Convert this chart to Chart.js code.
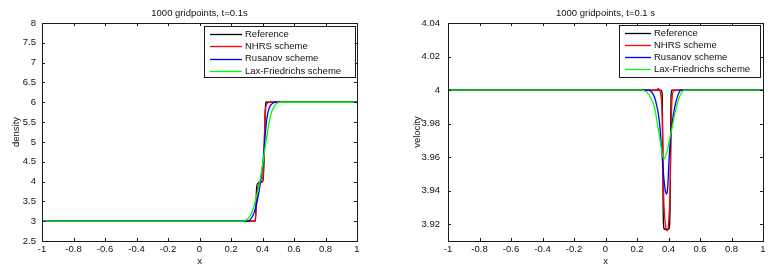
<!DOCTYPE html>
<html>
<head>
<meta charset="utf-8">
<script src="https://cdn.jsdelivr.net/npm/chart.js@4"></script>
<style>
  html, body { margin:0; padding:0; background:#fff; }
  #wrap { position:relative; width:773px; height:274px; }
  canvas { position:absolute; top:0; }
</style>
</head>
<body>
<div id="wrap">
  <canvas id="rhoChart" width="390" height="274" style="left:0"></canvas>
  <canvas id="velChart" width="383" height="274" style="left:390px"></canvas>
</div>
<script>
const seriesNames = ['Reference', 'NHRS scheme', 'Rusanov scheme', 'Lax-Friedrichs scheme'];
const seriesColors = ['#000000', '#ff0000', '#0000ff', '#00ff00'];

const xTicks = [-1, -0.8, -0.6, -0.4, -0.2, 0, 0.2, 0.4, 0.6, 0.8, 1];
const xTickLabels = ['-1', '-0.8', '-0.6', '-0.4', '-0.2', '0', '0.2', '0.4', '0.6', '0.8', '1'];
const rhoTicks = [2.5, 3, 3.5, 4, 4.5, 5, 5.5, 6, 6.5, 7, 7.5, 8];
const rhoTickLabels = ['2.5', '3', '3.5', '4', '4.5', '5', '5.5', '6', '6.5', '7', '7.5', '8'];
const velTicks = [3.92, 3.94, 3.96, 3.98, 4, 4.02, 4.04];
const velTickLabels = ['3.92', '3.94', '3.96', '3.98', '4', '4.02', '4.04'];

// density, t=0.1s
const rhoRefX  = [-1, 0.355, 0.358, 0.362, 0.368, 0.375, 0.38, 0.40, 0.405, 0.41, 0.415, 0.42, 1];
const rhoRefY  = [3, 3, 3.3, 3.8, 3.95, 3.95, 4.0, 4.0, 4.1, 4.6, 5.5, 6.0, 6];
const rhoNhrsX = [-1, 0.34, 0.352, 0.36, 0.365, 0.37, 0.38, 0.39, 0.40, 0.405, 0.41, 0.415, 0.42, 0.43, 0.44, 1];
const rhoNhrsY = [3, 3, 3.02, 3.3, 3.6, 3.85, 3.95, 3.98, 4.0, 4.2, 4.8, 5.5, 5.85, 5.97, 6.0, 6];
const rhoRusX  = [-1, 0.30, 0.32, 0.34, 0.36, 0.38, 0.395, 0.41, 0.42, 0.43, 0.445, 0.46, 0.48, 1];
const rhoRusY  = [3, 3, 3.03, 3.15, 3.4, 3.8, 4.2, 4.8, 5.3, 5.65, 5.88, 5.96, 6.0, 6];
const rhoLfX   = [-1, 0.27, 0.30, 0.32, 0.34, 0.36, 0.38, 0.40, 0.42, 0.44, 0.46, 0.48, 0.50, 0.52, 1];
const rhoLfY   = [3, 3, 3.04, 3.12, 3.3, 3.6, 3.95, 4.4, 4.95, 5.45, 5.78, 5.93, 5.99, 6.0, 6];

// velocity, t=0.1 s
const velRefX  = [-1, 0.33, 0.35, 0.36, 0.363, 0.366, 0.37, 0.375, 0.40, 0.405, 0.41, 0.413, 0.416, 0.42, 1];
const velRefY  = [4, 4, 4, 3.998, 3.97, 3.93, 3.918, 3.917, 3.917, 3.918, 3.93, 3.97, 3.995, 4, 4];
const velNhrsX = [-1, 0.30, 0.32, 0.335, 0.35, 0.36, 0.365, 0.37, 0.38, 0.39, 0.40, 0.41, 0.415, 0.42, 0.43, 0.45, 1];
const velNhrsY = [4, 4, 4, 4.0008, 3.998, 3.985, 3.96, 3.935, 3.92, 3.916, 3.92, 3.94, 3.965, 3.99, 3.999, 4, 4];
const velRusX  = [-1, 0.27, 0.30, 0.32, 0.34, 0.35, 0.36, 0.37, 0.38, 0.387, 0.395, 0.403, 0.41, 0.42, 0.44, 0.46, 0.48, 1];
const velRusY  = [4, 4, 3.998, 3.993, 3.983, 3.973, 3.96, 3.948, 3.94, 3.938, 3.942, 3.958, 3.968, 3.978, 3.99, 3.997, 4, 4];
const velLfX   = [-1, 0.22, 0.26, 0.29, 0.31, 0.33, 0.35, 0.37, 0.39, 0.41, 0.43, 0.45, 0.47, 0.50, 1];
const velLfY   = [4, 4, 3.999, 3.995, 3.99, 3.98, 3.968, 3.959, 3.963, 3.972, 3.981, 3.99, 3.996, 4, 4];

const FONT = 'Liberation Sans, Arial, sans-serif';
const LINE_W = 1.3;

function pts(xs, ys){ return xs.map((x,i)=>({x, y: ys[i]})); }

function makeDatasets(list){
  return list.map((p,i)=>({
    label: seriesNames[i],
    data: pts(p[0], p[1]),
    borderColor: seriesColors[i],
    borderWidth: LINE_W,
    pointRadius: 0,
    cubicInterpolationMode: 'monotone',
    fill: false,
    order: list.length - 1 - i   // later series painted on top, like matlab
  }));
}

// matlab-like frame, inward ticks, title, axis labels and legend box
const matlabDeco = {
  id: 'matlabDeco',
  afterDraw(chart, args, o){
    const {ctx, chartArea: a, scales} = chart;
    ctx.save();
    ctx.strokeStyle = '#1a1a1a';
    ctx.lineWidth = 1;
    ctx.strokeRect(Math.round(a.left)+0.5, Math.round(a.top)+0.5, Math.round(a.right-a.left), Math.round(a.bottom-a.top));
    ctx.beginPath();
    scales.x.ticks.forEach(t=>{
      const px = Math.round(scales.x.getPixelForValue(t.value))+0.5;
      ctx.moveTo(px, a.bottom); ctx.lineTo(px, a.bottom-3);
      ctx.moveTo(px, a.top); ctx.lineTo(px, a.top+3);
    });
    scales.y.ticks.forEach(t=>{
      const py = Math.round(scales.y.getPixelForValue(t.value))+0.5;
      ctx.moveTo(a.left, py); ctx.lineTo(a.left+3, py);
      ctx.moveTo(a.right, py); ctx.lineTo(a.right-3, py);
    });
    ctx.stroke();

    ctx.fillStyle = '#111';
    ctx.font = '9.5px ' + FONT;
    ctx.textAlign = 'center';
    ctx.textBaseline = 'middle';
    const cx = (a.left + a.right)/2;
    ctx.fillText(o.title, cx, 13.5);
    ctx.fillText('x', cx, 261);
    ctx.save();
    ctx.translate(o.yTitleX, (a.top + a.bottom)/2);
    ctx.rotate(-Math.PI/2);
    ctx.fillText(o.yTitle, 0, 0);
    ctx.restore();

    // legend
    const L = o.legend;
    ctx.fillStyle = '#fff';
    ctx.fillRect(L.x, L.y, L.w, L.h);
    ctx.strokeStyle = '#1a1a1a';
    ctx.strokeRect(L.x+0.5, L.y+0.5, L.w, L.h);
    ctx.textAlign = 'left';
    chart.data.datasets.forEach((ds,i)=>{
      const yy = L.y + L.first + i*L.step;
      ctx.strokeStyle = ds.borderColor;
      ctx.lineWidth = LINE_W;
      ctx.beginPath();
      ctx.moveTo(L.x + 6, Math.round(yy)+0.5);
      ctx.lineTo(L.x + 6 + L.line, Math.round(yy)+0.5);
      ctx.stroke();
      ctx.fillStyle = '#111';
      ctx.fillText(ds.label, L.x + 9 + L.line, yy);
    });
    ctx.restore();
  }
};

function makeChart(id, datasets, yMin, yMax, yTicks, yLabels, yWidth, padRight, yPad, deco){
  return new Chart(document.getElementById(id), {
    type: 'line',
    data: { datasets },
    options: {
      responsive: false,
      animation: false,
      devicePixelRatio: 1,
      layout: { padding: { top: 23, right: padRight, left: 0, bottom: 0 } },
      plugins: { legend: { display: false }, tooltip: { enabled: false }, matlabDeco: deco },
      scales: {
        x: {
          type: 'linear', min: -1, max: 1,
          grid: { display: false, drawTicks: false }, border: { display: false },
          afterBuildTicks: s => { s.ticks = xTicks.map(v=>({value: v})); },
          afterFit: s => { s.height = 33; },
          ticks: { autoSkip: false, maxRotation: 0, padding: 3, color: '#111',
                   font: { family: FONT, size: 9.5 }, callback: (v,i) => xTickLabels[i] }
        },
        y: {
          type: 'linear', min: yMin, max: yMax,
          grid: { display: false, drawTicks: false }, border: { display: false },
          afterBuildTicks: s => { s.ticks = yTicks.map(v=>({value: v})); },
          afterFit: s => { s.width = yWidth; },
          ticks: { autoSkip: false, padding: yPad, color: '#111',
                   font: { family: FONT, size: 9.5 }, callback: (v,i) => yLabels[i] }
        }
      }
    },
    plugins: [matlabDeco]
  });
}

makeChart('rhoChart',
  makeDatasets([[rhoRefX, rhoRefY], [rhoNhrsX, rhoNhrsY], [rhoRusX, rhoRusY], [rhoLfX, rhoLfY]]),
  2.5, 8, rhoTicks, rhoTickLabels, 42, 33, 6,
  { title: '1000 gridpoints, t=0.1s', yTitle: 'density', yTitleX: 16,
    legend: { x: 204, y: 26, w: 151, h: 51, first: 8, step: 12.3, line: 32 } });

makeChart('velChart',
  makeDatasets([[velRefX, velRefY], [velNhrsX, velNhrsY], [velRusX, velRusY], [velLfX, velLfY]]),
  3.91, 4.04, velTicks, velTickLabels, 58, 10, 8,
  { title: '1000 gridpoints, t=0.1 s', yTitle: 'velocity', yTitleX: 27,
    legend: { x: 229, y: 25, w: 141, h: 52, first: 8, step: 12, line: 26 } });
</script>
</body>
</html>
